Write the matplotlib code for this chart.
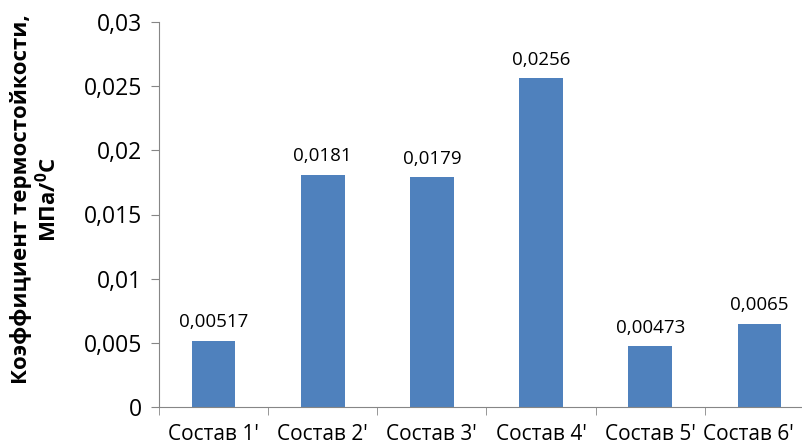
import matplotlib.pyplot as plt
import matplotlib.transforms as mtransforms
import numpy as np
from matplotlib.ticker import FuncFormatter, FixedLocator

# Коэффициент термостойкости по составам
categories = ["Состав 1'", "Состав 2'", "Состав 3'", "Состав 4'", "Состав 5'", "Состав 6'"]
values = [0.00517, 0.0181, 0.0179, 0.0256, 0.00473, 0.0065]
value_labels = ["0,00517", "0,0181", "0,0179", "0,0256", "0,00473", "0,0065"]

plt.rcParams["font.family"] = ["Open Sans", "DejaVu Sans"]
plt.rcParams["mathtext.fontset"] = "custom"
plt.rcParams["mathtext.rm"] = "Open Sans:bold"
plt.rcParams["mathtext.bf"] = "Open Sans:bold"

fig = plt.figure(figsize=(8.03, 4.47), dpi=100)
ax = fig.add_axes([159 / 803, 1 - 407 / 447, 655 / 803, 385 / 447])

x = np.arange(len(categories))
bars = ax.bar(x, values, width=0.4, color="#4F81BD", zorder=2)

for xi, v, lab in zip(x, values, value_labels):
    ax.annotate(lab, (xi, v), xytext=(0, 7), textcoords="offset points",
                ha="center", va="bottom", fontsize=13.5, color="#000000")

ax.set_xlim(-0.5, len(categories) - 0.5)
ax.set_ylim(0, 0.03)
ax.set_yticks(np.arange(0, 0.0301, 0.005))
ax.yaxis.set_major_formatter(FuncFormatter(
    lambda v, _: "0" if abs(v) < 1e-12 else f"{v:.3f}".rstrip("0").replace(".", ",")))

ax.set_xticks(x)
ax.set_xticklabels(categories, fontsize=15)
ax.tick_params(axis="x", which="major", length=0, pad=12)
ax.xaxis.set_minor_locator(FixedLocator(np.arange(-0.5, len(categories), 1.0)))
ax.tick_params(axis="x", which="minor", length=6, color="#868686", direction="out")
ax.tick_params(axis="y", length=6, color="#868686", labelsize=16.5, pad=6)

# the last category label is nudged left so it stays inside the figure
last = ax.get_xticklabels()[-1]
last.set_transform(last.get_transform() + mtransforms.ScaledTranslation(-8 / 72, 0, fig.dpi_scale_trans))

for s in ["top", "right"]:
    ax.spines[s].set_visible(False)
for s in ["left", "bottom"]:
    ax.spines[s].set_color("#868686")

fig.text(0.044, 0.555, "Коэффициент термостойкости,\nМПа/$^{0}$С", rotation=90,
         ha="center", va="center", fontsize=16, fontweight="bold",
         linespacing=1.15, multialignment="center")

fig.savefig("out.png", dpi=100)
